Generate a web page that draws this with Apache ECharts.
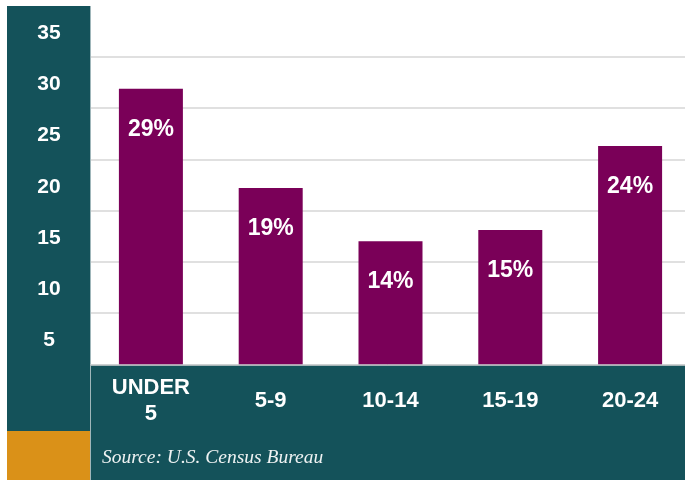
<!DOCTYPE html>
<html lang="en">
  <head>
    <meta charset="utf-8">
    <title>age groups</title>
    <script src="https://cdn.jsdelivr.net/npm/echarts@6/dist/echarts.min.js"></script>
    <style>
      html, body { margin: 0; padding: 0; background: #fff; }
      #chart { width: 685px; height: 480px; }
    </style>
  </head>
  <body>
    <div id="chart"></div>
    <script>
      // data
      var categories = ["UNDER\n5", "5-9", "10-14", "15-19", "20-24"];
      var barValues = [26.9, 17.2, 12.0, 13.1, 21.3];   // bar heights as drawn
      var barLabels = ["29%", "19%", "14%", "15%", "24%"]; // printed labels
      var yTicks = [0, 5, 10, 15, 20, 25, 30, 35];

      var TEAL = "#14525a";
      var PURPLE = "#7a0058";
      var ORANGE = "#da9118";

      var myChart = echarts.init(document.getElementById("chart"));

      myChart.setOption({
        animation: false,
        backgroundColor: "#fff",
        graphic: [
          // left teal panel
          {type: "rect", z: -10, shape: {x: 7, y: 6, width: 83, height: 425}, style: {fill: TEAL}},
          // bottom teal band
          {type: "rect", z: -10, shape: {x: 90, y: 364, width: 600, height: 120}, style: {fill: TEAL}},
          // orange corner
          {type: "rect", z: -10, shape: {x: 7, y: 431, width: 83, height: 50}, style: {fill: ORANGE}},
          // thin light borders
          {type: "line", z: -9, shape: {x1: 90.5, y1: 6, x2: 90.5, y2: 480}, style: {stroke: "#9fb6ba", lineWidth: 1}},
          {type: "line", z: -9, shape: {x1: 90, y1: 364.5, x2: 685, y2: 364.5}, style: {stroke: "#b9c4c6", lineWidth: 1}},
          {
            type: "text", z: 10, left: 102, top: 448,
            style: {
              text: "Source: U.S. Census Bureau",
              fill: "#eef2f2",
              font: "italic 19.5px 'Liberation Serif', 'DejaVu Serif', serif"
            }
          }
        ],
        grid: {left: 91, top: 5.7, width: 599, height: 358.6, outerBoundsMode: "none"},
        xAxis: {
          type: "category",
          data: categories,
          axisLine: {show: false},
          axisTick: {show: false},
          axisLabel: {
            color: "#fff",
            fontFamily: "Liberation Sans, Arial, sans-serif",
            fontWeight: "bold",
            fontSize: 22,
            lineHeight: 26,
            verticalAlign: "middle",
            margin: 37,
            interval: 0
          }
        },
        yAxis: {
          type: "value",
          min: yTicks[0],
          max: yTicks[yTicks.length - 1],
          interval: 5,
          axisLine: {show: false},
          axisTick: {show: false},
          splitLine: {showMaxLine: false, lineStyle: {color: "#d6d6d6", width: 1.5}},
          axisLabel: {
            showMinLabel: false,
            color: "#fff",
            fontFamily: "Liberation Sans, Arial, sans-serif",
            fontWeight: "bold",
            fontSize: 21,
            align: "center",
            verticalAlign: "top",
            padding: [17, 0, 0, 0],
            margin: 42
          }
        },
        series: [{
          type: "bar",
          data: barValues,
          barWidth: 64,
          itemStyle: {color: PURPLE},
          label: {
            show: true,
            position: "insideTop",
            distance: 29,
            color: "#fff",
            fontFamily: "Liberation Sans, Arial, sans-serif",
            fontWeight: "bold",
            fontSize: 23,
            formatter: function (p) { return barLabels[p.dataIndex]; }
          }
        }]
      });
    </script>
  </body>
</html>
